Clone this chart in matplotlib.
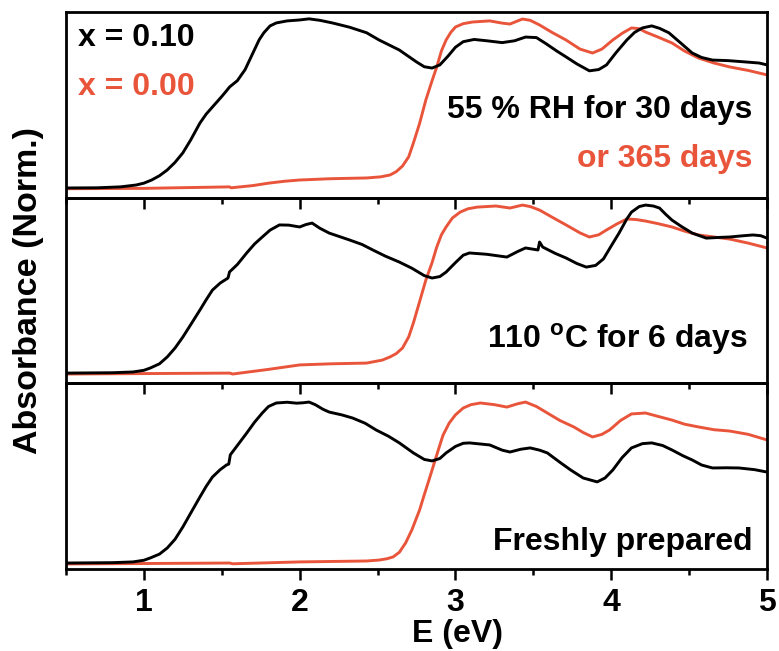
import numpy as np
import matplotlib.pyplot as plt
from matplotlib.ticker import MultipleLocator

plt.rcParams['font.family'] = ['Liberation Sans', 'DejaVu Sans']
plt.rcParams['font.weight'] = 'bold'
plt.rcParams['mathtext.fontset'] = 'custom'
plt.rcParams['mathtext.rm'] = 'Liberation Sans:bold'
plt.rcParams['mathtext.bf'] = 'Liberation Sans:bold'

RED = '#E9553B'

# 55 % RH panel (top): x = 0.10 (black), x = 0.00 (red)
e_rh_k = [0.5, 0.7, 0.85, 0.95, 1.0, 1.05, 1.1, 1.15, 1.2, 1.25, 1.3, 1.36, 1.4, 1.44, 1.5, 1.53,
          1.55, 1.6, 1.65, 1.7, 1.74, 1.77, 1.81, 1.85, 1.92, 2.0, 2.06, 2.13, 2.21, 2.32, 2.43,
          2.51, 2.58, 2.64, 2.7, 2.75, 2.8, 2.85, 2.9, 2.95, 3.0, 3.05, 3.12, 3.2, 3.3, 3.38,
          3.45, 3.52, 3.58, 3.65, 3.71, 3.78, 3.86, 3.92, 3.97, 4.03, 4.1, 4.15, 4.2, 4.26,
          4.31, 4.37, 4.45, 4.52, 4.58, 4.65, 4.75, 4.86, 4.95, 5.0]
a_rh_k = [0.052, 0.053, 0.058, 0.068, 0.078, 0.095, 0.118, 0.149, 0.19, 0.241, 0.31, 0.402,
          0.45, 0.488, 0.545, 0.575, 0.596, 0.63, 0.69, 0.779, 0.85, 0.888, 0.925, 0.941, 0.952,
          0.957, 0.963, 0.955, 0.941, 0.918, 0.888, 0.849, 0.82, 0.795, 0.76, 0.731, 0.705,
          0.698, 0.715, 0.76, 0.81, 0.84, 0.852, 0.845, 0.835, 0.845, 0.865, 0.862, 0.83, 0.79,
          0.758, 0.72, 0.683, 0.69, 0.715, 0.78, 0.849, 0.89, 0.914, 0.925, 0.912, 0.888, 0.83,
          0.779, 0.755, 0.741, 0.738, 0.731, 0.725, 0.715]
e_rh_r = [0.5, 1.0, 1.55, 1.56, 1.7, 1.8, 1.9, 2.0, 2.2, 2.43, 2.52, 2.58, 2.62, 2.66, 2.7,
          2.73, 2.77, 2.81, 2.85, 2.88, 2.91, 2.94, 2.97, 3.0, 3.05, 3.11, 3.22, 3.3, 3.35, 3.4,
          3.43, 3.48, 3.54, 3.62, 3.71, 3.8, 3.88, 3.94, 4.01, 4.07, 4.13, 4.18, 4.22, 4.3, 4.39,
          4.47, 4.56, 4.66, 4.76, 4.88, 5.0]
a_rh_r = [0.048, 0.05, 0.058, 0.053, 0.065, 0.078, 0.088, 0.095, 0.102, 0.106, 0.112, 0.122,
          0.14, 0.17, 0.22, 0.294, 0.40, 0.526, 0.63, 0.704, 0.79, 0.849, 0.89, 0.919, 0.937,
          0.946, 0.952, 0.94, 0.935, 0.952, 0.962, 0.955, 0.93, 0.89, 0.849, 0.80, 0.779, 0.80,
          0.849, 0.885, 0.914, 0.91, 0.892, 0.865, 0.833, 0.79, 0.752, 0.725, 0.704, 0.685,
          0.661]

# 110 C panel (middle)
e_heat_k = [0.5, 0.8, 0.93, 1.0, 1.04, 1.1, 1.15, 1.2, 1.25, 1.3, 1.36, 1.4, 1.44, 1.49, 1.54,
            1.55, 1.6, 1.66, 1.71, 1.76, 1.81, 1.87, 1.93, 2.0, 2.04, 2.08, 2.13, 2.19, 2.32,
            2.4, 2.47, 2.55, 2.64, 2.72, 2.8, 2.85, 2.9, 2.94, 3.0, 3.05, 3.09, 3.2, 3.33, 3.4,
            3.45, 3.53, 3.54, 3.56, 3.64, 3.71, 3.78, 3.84, 3.9, 3.95, 4.0, 4.05, 4.1, 4.13,
            4.18, 4.22, 4.27, 4.31, 4.35, 4.39, 4.45, 4.52, 4.61, 4.7, 4.76, 4.85, 4.91, 4.96,
            5.0]
a_heat_k = [0.055, 0.057, 0.061, 0.07, 0.082, 0.105, 0.142, 0.19, 0.249, 0.315, 0.395, 0.45,
            0.502, 0.54, 0.567, 0.60, 0.64, 0.702, 0.75, 0.788, 0.825, 0.853, 0.852, 0.842,
            0.855, 0.863, 0.835, 0.809, 0.772, 0.748, 0.718, 0.685, 0.653, 0.62, 0.58, 0.567,
            0.575, 0.599, 0.65, 0.69, 0.702, 0.695, 0.68, 0.71, 0.729, 0.718, 0.761, 0.734, 0.70,
            0.675, 0.645, 0.626, 0.635, 0.67, 0.74, 0.809, 0.885, 0.922, 0.952, 0.96, 0.955,
            0.944, 0.91, 0.879, 0.845, 0.809, 0.782, 0.786, 0.788, 0.795, 0.799, 0.795, 0.782]
e_heat_r = [0.5, 1.55, 1.57, 1.8, 2.0, 2.2, 2.43, 2.53, 2.58, 2.62, 2.66, 2.7, 2.73, 2.77, 2.81,
            2.85, 2.88, 2.91, 2.94, 2.98, 3.03, 3.08, 3.14, 3.26, 3.35, 3.43, 3.48, 3.54, 3.62,
            3.71, 3.8, 3.86, 3.92, 3.97, 4.04, 4.1, 4.16, 4.22, 4.3, 4.39, 4.47, 4.56, 4.66,
            4.76, 4.88, 5.0]
a_heat_r = [0.05, 0.055, 0.05, 0.075, 0.099, 0.105, 0.109, 0.125, 0.142, 0.16, 0.19, 0.25,
            0.325, 0.44, 0.556, 0.65, 0.734, 0.80, 0.842, 0.89, 0.922, 0.94, 0.949, 0.955, 0.944,
            0.96, 0.952, 0.933, 0.895, 0.853, 0.81, 0.788, 0.80, 0.826, 0.86, 0.885, 0.882,
            0.874, 0.86, 0.842, 0.82, 0.799, 0.788, 0.777, 0.755, 0.729]

# freshly prepared panel (bottom)
e_fresh_k = [0.5, 0.8, 0.93, 1.0, 1.04, 1.1, 1.15, 1.2, 1.25, 1.3, 1.36, 1.4, 1.44, 1.49, 1.53,
             1.545, 1.555, 1.6, 1.66, 1.71, 1.76, 1.8, 1.85, 1.92, 1.98, 2.02, 2.06, 2.1, 2.15,
             2.19, 2.27, 2.34, 2.42, 2.49, 2.57, 2.64, 2.73, 2.8, 2.85, 2.9, 2.94, 3.0, 3.05,
             3.09, 3.22, 3.3, 3.35, 3.42, 3.48, 3.54, 3.59, 3.67, 3.74, 3.82, 3.91, 3.96, 4.01,
             4.07, 4.13, 4.2, 4.26, 4.33, 4.39, 4.46, 4.52, 4.58, 4.65, 4.74, 4.82, 4.92, 5.0]
a_fresh_k = [0.032, 0.034, 0.038, 0.047, 0.059, 0.08, 0.113, 0.16, 0.226, 0.30, 0.388, 0.445,
             0.495, 0.535, 0.56, 0.565, 0.615, 0.665, 0.732, 0.79, 0.84, 0.875, 0.894, 0.898,
             0.893, 0.895, 0.899, 0.885, 0.86, 0.845, 0.83, 0.813, 0.785, 0.749, 0.715, 0.679,
             0.625, 0.59, 0.582, 0.595, 0.625, 0.66, 0.677, 0.679, 0.668, 0.64, 0.63, 0.645,
             0.652, 0.64, 0.625, 0.575, 0.533, 0.49, 0.469, 0.49, 0.533, 0.60, 0.652, 0.675,
             0.679, 0.665, 0.641, 0.61, 0.587, 0.56, 0.544, 0.545, 0.544, 0.535, 0.522]
e_fresh_r = [0.5, 1.55, 1.57, 2.0, 2.43, 2.51, 2.56, 2.6, 2.64, 2.68, 2.72, 2.77, 2.8, 2.83,
             2.86, 2.89, 2.92, 2.96, 3.0, 3.05, 3.1, 3.16, 3.25, 3.33, 3.4, 3.45, 3.52, 3.59,
             3.67, 3.76, 3.82, 3.88, 3.94, 3.99, 4.06, 4.13, 4.22, 4.3, 4.39, 4.47, 4.56, 4.66,
             4.76, 4.88, 5.0]
a_fresh_r = [0.027, 0.032, 0.028, 0.038, 0.043, 0.048, 0.055, 0.065, 0.09, 0.14, 0.21, 0.318,
             0.40, 0.479, 0.56, 0.641, 0.72, 0.786, 0.83, 0.867, 0.885, 0.894, 0.885, 0.872,
             0.89, 0.899, 0.875, 0.84, 0.80, 0.765, 0.735, 0.711, 0.725, 0.749, 0.80, 0.835,
             0.84, 0.822, 0.802, 0.78, 0.765, 0.75, 0.743, 0.725, 0.695]

panels = [
    (e_rh_k, a_rh_k, e_rh_r, a_rh_r),
    (e_heat_k, a_heat_k, e_heat_r, a_heat_r),
    (e_fresh_k, a_fresh_k, e_fresh_r, a_fresh_r),
]

fig, axes = plt.subplots(3, 1, figsize=(7.79, 6.51), dpi=100, sharex=True)
fig.subplots_adjust(left=0.0847, right=0.9846, top=0.9816, bottom=0.126, hspace=0)

for ax, (ek, ak, er, ar) in zip(axes, panels):
    # transparent so the ticks of the panel above stay visible
    ax.patch.set_visible(False)
    ax.plot(er, ar, color=RED, lw=2.1, solid_joinstyle='round')
    ax.plot(ek, ak, color='black', lw=2.1, solid_joinstyle='round')
    ax.set_xlim(0.5, 5)
    ax.set_ylim(0, 1)
    ax.set_yticks([])
    for s in ax.spines.values():
        s.set_linewidth(2.0)
    ax.xaxis.set_major_locator(MultipleLocator(1))
    ax.xaxis.set_minor_locator(MultipleLocator(0.5))
    ax.tick_params(axis='x', which='major', direction='out', length=8, width=1.8,
                   labelsize=23, pad=6)
    ax.tick_params(axis='x', which='minor', direction='out', length=4.3, width=1.8)

for lab in axes[-1].get_xticklabels():
    lab.set_fontweight('bold')

t = axes[0].transAxes
axes[0].text(0.017, 0.817, 'x = 0.10', transform=t, fontsize=23, fontweight='bold',
             color='black', va='baseline', ha='left')
axes[0].text(0.017, 0.553, 'x = 0.00', transform=t, fontsize=23, fontweight='bold',
             color=RED, va='baseline', ha='left')
axes[0].text(0.979, 0.429, '55 % RH for 30 days', transform=t, fontsize=23,
             fontweight='bold', color='black', va='baseline', ha='right')
axes[0].text(0.979, 0.165, 'or 365 days', transform=t, fontsize=23, fontweight='bold',
             color=RED, va='baseline', ha='right')
axes[1].text(0.973, 0.190, r'110 $^{\mathrm{o}}$C for 6 days', transform=axes[1].transAxes,
             fontsize=23, fontweight='bold', color='black', va='baseline', ha='right')
axes[2].text(0.979, 0.102, 'Freshly prepared', transform=axes[2].transAxes, fontsize=23,
             fontweight='bold', color='black', va='baseline', ha='right')

fig.text(0.036, 0.553, 'Absorbance (Norm.)', rotation=90, fontsize=24.5, fontweight='bold',
         ha='center', va='center')
fig.text(0.587, 0.014, 'E (eV)', fontsize=23, fontweight='bold', ha='center', va='baseline')

fig.savefig('out.png', dpi=100)
